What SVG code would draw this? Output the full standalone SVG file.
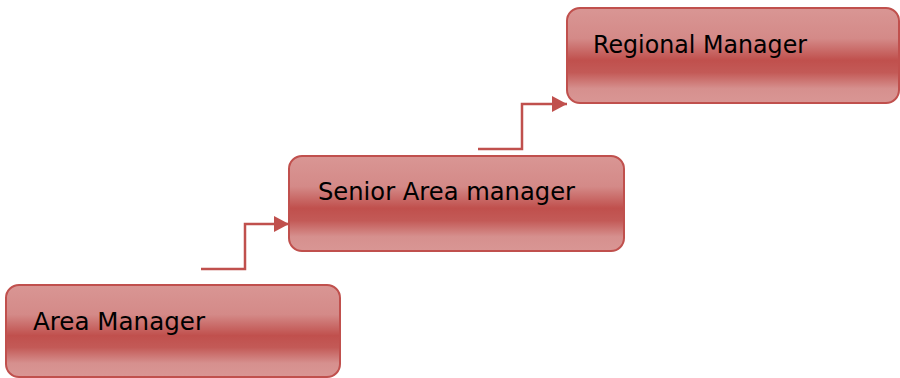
<svg xmlns="http://www.w3.org/2000/svg" width="900" height="378" viewBox="0 0 900 378">
<style>
.box{fill:url(#g);stroke:#c0504d;stroke-width:2}
.lbl{font-family:"DejaVu Sans",sans-serif;font-size:25px;fill:#000}
.con{fill:none;stroke:#c0504d;stroke-width:2.5}
</style>
<defs>
<linearGradient id="g" x1="0" y1="0" x2="0" y2="1">
<stop offset="0" stop-color="#d99694"/>
<stop offset="0.32" stop-color="#d48a88"/>
<stop offset="0.55" stop-color="#c0504d"/>
<stop offset="0.68" stop-color="#c35a57"/>
<stop offset="0.85" stop-color="#d6908e"/>
<stop offset="1" stop-color="#d99694"/>
</linearGradient>
<marker id="arr" markerWidth="6" markerHeight="6.4" refX="6" refY="3.2" orient="auto" markerUnits="strokeWidth">
<path d="M0,0 L6,3.2 L0,6.4 Z" fill="#c0504d"/>
</marker>
</defs>
<g id="connectors">
<path class="con" d="M201,269 H245 V224 H289" marker-end="url(#arr)"/>
<path class="con" d="M478,149 H522 V104 H567" marker-end="url(#arr)"/>
</g>
<g id="area-manager">
<rect class="box" x="6" y="285" width="334" height="92" rx="13"/>
<text class="lbl" x="33" y="330" textLength="172" lengthAdjust="spacingAndGlyphs">Area Manager</text>
</g>
<g id="senior-area-manager">
<rect class="box" x="289" y="156" width="335" height="95" rx="13"/>
<text class="lbl" x="318" y="200" textLength="257" lengthAdjust="spacingAndGlyphs">Senior Area manager</text>
</g>
<g id="regional-manager">
<rect class="box" x="567" y="8" width="332" height="95" rx="13"/>
<text class="lbl" x="593" y="53" textLength="214" lengthAdjust="spacingAndGlyphs">Regional Manager</text>
</g>
</svg>
